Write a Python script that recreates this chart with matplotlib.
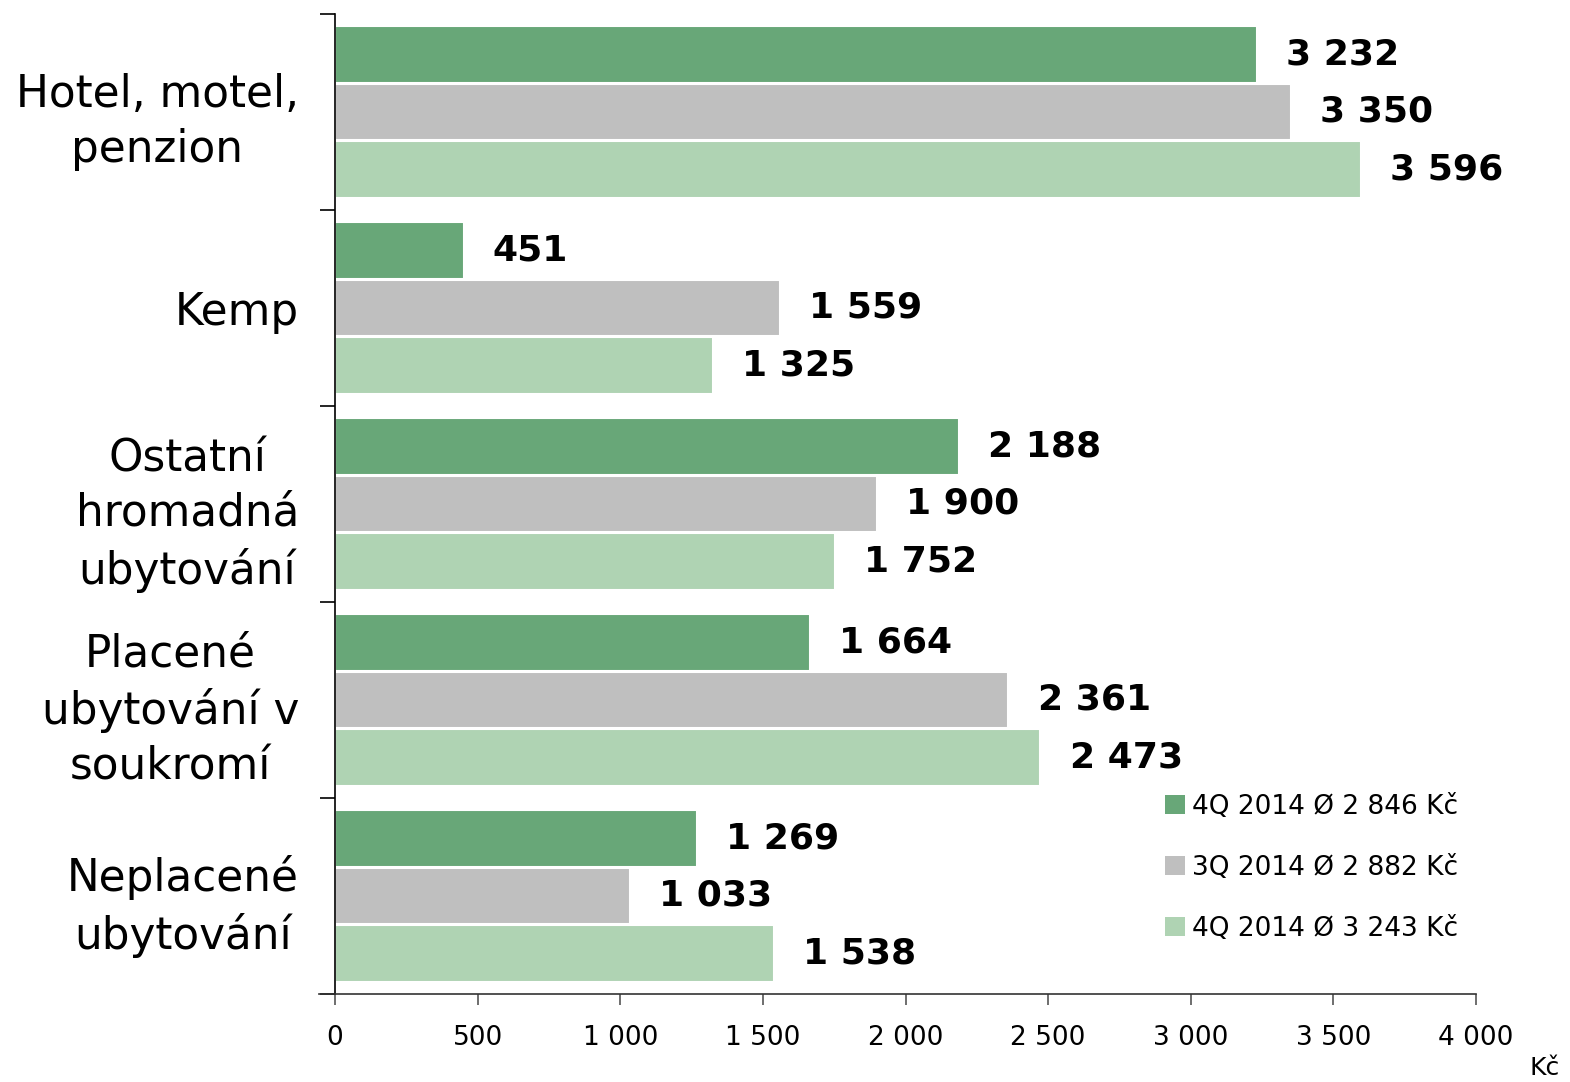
import numpy as np
import matplotlib
matplotlib.use('Agg')
import matplotlib.pyplot as plt
from matplotlib.patches import Patch

plt.rcParams['font.family'] = ['DejaVu Sans']

categories = ["Hotel, motel,\npenzion", "Kemp", "Ostatní\nhromadná\nubytování",
              "Placené\nubytování v\nsoukromí", "Neplacené\nubytování"]
series_labels = ["4Q 2014 Ø 2 846 Kč", "3Q 2014 Ø 2 882 Kč", "4Q 2014 Ø 3 243 Kč"]
vals_4q14a = [3232, 451, 2188, 1664, 1269]
vals_3q14 = [3350, 1559, 1900, 2361, 1033]
vals_4q14b = [3596, 1325, 1752, 2473, 1538]
colors = ["#68A778", "#BFBFBF", "#AFD3B3"]

def fmt(v):
    return f"{v:,}".replace(",", " ")

fig = plt.figure(figsize=(15.7, 10.82), dpi=100)
ax = fig.add_axes([335/1570, 1-994/1082, (1476-335)/1570, (994-14)/1082])

y = np.arange(len(categories))
offsets = [-0.292, 0.0, 0.292]
h = 0.29
for vals, off, col, lab in zip([vals_4q14a, vals_3q14, vals_4q14b], offsets, colors, series_labels):
    bars = ax.barh(y + off, vals, height=h, color=col, edgecolor="white",
                   linewidth=1.5, label=lab)
    for b, v in zip(bars, vals):
        ax.annotate(fmt(v), (v, b.get_y() + b.get_height()/2), xytext=(21, 0),
                    textcoords="offset points", va="center", ha="left",
                    fontsize=26, fontweight="bold")

ax.set_xlim(0, 4000)
ax.set_ylim(4.5, -0.5)
ax.set_xticks(np.arange(0, 4001, 500))
ax.set_xticklabels([fmt(v) for v in range(0, 4001, 500)], fontsize=19)
ax.tick_params(axis='x', length=8, width=1.2, color="#555555", pad=14)

ax.set_yticks(np.arange(-0.5, 4.6, 1.0))
ax.set_yticklabels([])
ax.tick_params(axis='y', length=11, width=1.2)
ax.set_yticks(y, minor=True)
ax.set_yticklabels(categories, minor=True, fontsize=31.5, multialignment="center",
                   linespacing=1.35)
ax.tick_params(axis='y', which='minor', length=0, pad=26)

for s in ["top", "right"]:
    ax.spines[s].set_visible(False)
ax.spines["left"].set_linewidth(1.2)
ax.spines["bottom"].set_linewidth(1.2)
ax.spines["bottom"].set_bounds(-55, 4000)
ax.spines["bottom"].set_color("#333333")

fig.text(1545/1570, 1-1068/1082, "Kč", fontsize=18, ha="center", va="center")

handles = [Patch(facecolor=c, edgecolor="none") for c in colors]
leg = fig.legend(handles, series_labels, loc="upper left",
                 bbox_to_anchor=(1141/1570, 1-770/1082), frameon=False,
                 fontsize=19, handlelength=0.75, handleheight=0.75,
                 handletextpad=0.3, labelspacing=1.33)

fig.savefig("out.png", dpi=100)
